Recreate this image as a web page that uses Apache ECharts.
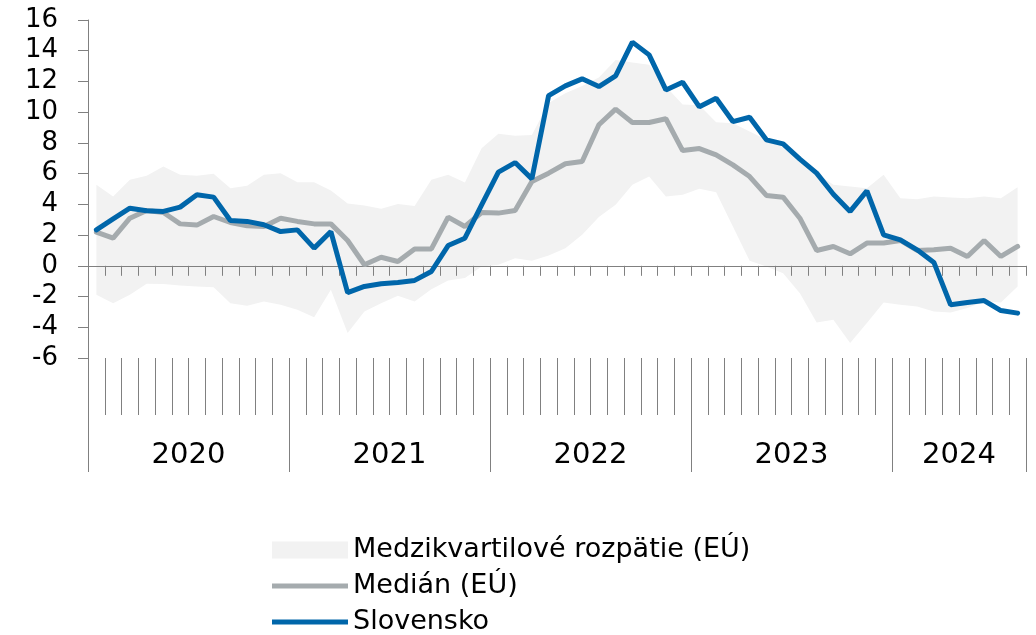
<!DOCTYPE html>
<html>
<head>
<meta charset="utf-8">
<script src="https://cdn.jsdelivr.net/npm/echarts@6/dist/echarts.min.js"></script>
<style>
  html, body { margin: 0; padding: 0; background: #fff; }
  #chart { width: 1036px; height: 635px; }
</style>
</head>
<body>
<div id="chart"></div>
<script>
// monthly, Jan 2020 - Aug 2024
const years = ['2020', '2021', '2022', '2023', '2024'];
const monthsInYear = [12, 12, 12, 12, 8];

const slovensko = [
  2.34, 3.05, 3.75, 3.58, 3.54, 3.82, 4.62, 4.47, 2.95, 2.89, 2.67, 2.23,
  2.34, 1.15, 2.23, -1.74, -1.34, -1.17, -1.08, -0.95, -0.37, 1.32, 1.80, 3.97,
  6.10, 6.72, 5.66, 11.08, 11.71, 12.17, 11.67, 12.36, 14.56, 13.73, 11.45, 11.95,
  10.35, 10.91, 9.39, 9.67, 8.20, 7.94, 6.94, 6.03, 4.66, 3.54, 4.88, 2.02,
  1.69, 1.04, 0.22, -2.54, -2.39, -2.26, -2.91, -3.08
];
const median = [
  2.19, 1.80, 3.10, 3.60, 3.47, 2.73, 2.65, 3.21, 2.82, 2.60, 2.56, 3.10,
  2.89, 2.73, 2.73, 1.65, 0.07, 0.56, 0.28, 1.10, 1.10, 3.17, 2.56, 3.47,
  3.43, 3.60, 5.49, 6.03, 6.64, 6.79, 9.18, 10.20, 9.33, 9.33, 9.57, 7.50,
  7.63, 7.22, 6.57, 5.81, 4.58, 4.47, 3.10, 1.00, 1.26, 0.78, 1.48, 1.48,
  1.65, 1.00, 1.04, 1.15, 0.61, 1.65, 0.61, 1.26
];
const iqrHigh = [
  5.27, 4.51, 5.60, 5.86, 6.46, 5.92, 5.86, 5.99, 5.05, 5.21, 5.92, 6.03,
  5.44, 5.44, 4.90, 4.05, 3.93, 3.71, 4.03, 3.90, 5.60, 5.92, 5.42, 7.66,
  8.59, 8.46, 8.52, 10.59, 11.24, 11.71, 12.26, 13.40, 13.23, 13.08, 11.67, 10.50,
  10.45, 9.35, 9.28, 8.74, 8.20, 7.94, 7.00, 6.03, 5.27, 5.16, 5.05, 5.92,
  4.40, 4.34, 4.51, 4.45, 4.40, 4.51, 4.40, 5.12
];
const iqrLow = [
  -1.89, -2.43, -1.89, -1.17, -1.19, -1.28, -1.34, -1.39, -2.43, -2.60, -2.32, -2.54,
  -2.86, -3.34, -1.56, -4.38, -2.97, -2.43, -1.95, -2.32, -1.52, -0.95, -0.80, -0.04,
  0.07, 0.50, 0.33, 0.67, 1.15, 2.02, 3.17, 3.97, 5.27, 5.81, 4.51, 4.62,
  5.02, 4.79, 2.56, 0.33, -0.04, -0.48, -1.78, -3.69, -3.51, -5.03, -3.73, -2.39,
  -2.54, -2.65, -2.97, -3.04, -2.75, -2.32, -2.39, -1.34
];

const yMin = -6, yMax = 16, yStep = 2;
const names = ['Medzikvartilové rozpätie (EÚ)', 'Medián (EÚ)', 'Slovensko'];

const months = [];
const yearStart = [];
const yearLabelAt = {};
years.forEach(function (y, k) {
  yearStart.push(months.length);
  yearLabelAt[months.length + monthsInYear[k] / 2 - 1] = y;
  for (let m = 1; m <= monthsInYear[k]; m++) {
    months.push(y + '-' + (m < 10 ? '0' + m : m));
  }
});
const iqrSpan = iqrHigh.map(function (v, i) { return +(v - iqrLow[i]).toFixed(2); });

const axisGray = '#808080';
const font = 'DejaVu Sans, Verdana, sans-serif';
const bandW = (1036 - 88 - 10) / months.length;

var chart = echarts.init(document.getElementById('chart'));
var option = {
  animation: false,
  textStyle: { fontFamily: font, color: '#000' },
  grid: { left: 88, right: 10, top: 20, bottom: 277, containLabel: false },
  legend: {
    orient: 'vertical',
    left: 272,
    top: 536,
    height: 130,
    padding: 0,
    itemWidth: 76,
    itemHeight: 17,
    itemGap: 8,
    selectedMode: false,
    textStyle: { fontFamily: font, fontSize: 27, color: '#000', lineHeight: 28 },
    data: [
      { name: names[0], icon: 'rect' },
      { name: names[1], icon: 'path://M0,0H76V5H0Z' },
      { name: names[2], icon: 'path://M0,0H76V5H0Z' }
    ]
  },
  xAxis: [
    {
      // month ticks along the zero line
      type: 'category',
      data: months,
      boundaryGap: true,
      z: 1,
      axisLine: { onZero: true, lineStyle: { color: axisGray, width: 1 } },
      axisTick: { show: true, interval: 0, length: 10, lineStyle: { color: axisGray } },
      axisLabel: { show: false },
      splitLine: { show: false }
    },
    {
      // month ticks under the plot
      type: 'category',
      data: months,
      position: 'bottom',
      boundaryGap: true,
      axisLine: { show: false, onZero: false },
      axisTick: { show: true, interval: 0, length: 57, lineStyle: { color: axisGray } },
      axisLabel: { show: false },
      splitLine: { show: false }
    },
    {
      // year separators and labels
      type: 'category',
      data: months,
      position: 'bottom',
      boundaryGap: true,
      axisLine: { show: false, onZero: false },
      axisTick: {
        show: true,
        length: 114,
        lineStyle: { color: axisGray },
        interval: function (i) { return yearStart.indexOf(i) >= 0; }
      },
      axisLabel: {
        show: true,
        interval: function (i) { return yearLabelAt[i] !== undefined; },
        formatter: function (v, i) { return yearLabelAt[i] || ''; },
        fontFamily: font,
        fontSize: 29,
        color: '#000',
        margin: 83,
        padding: [0, 0, 0, bandW]
      },
      splitLine: { show: false }
    }
  ],
  yAxis: {
    type: 'value',
    min: yMin,
    max: yMax,
    interval: yStep,
    axisLine: { show: true, lineStyle: { color: axisGray, width: 1 } },
    axisTick: { show: true, length: 10, lineStyle: { color: axisGray } },
    axisLabel: { fontFamily: font, fontSize: 26, color: '#000', margin: 30 },
    splitLine: { show: false }
  },
  series: [
    {
      name: 'iqr-base',
      type: 'line',
      stack: 'iqr',
      stackStrategy: 'all',
      data: iqrLow,
      symbol: 'none',
      lineStyle: { opacity: 0 },
      z: 0,
      silent: true
    },
    {
      name: names[0],
      type: 'line',
      stack: 'iqr',
      stackStrategy: 'all',
      data: iqrSpan,
      symbol: 'none',
      color: '#f2f2f2',
      lineStyle: { opacity: 0 },
      areaStyle: { color: '#f2f2f2', opacity: 1 },
      z: 0,
      silent: true
    },
    {
      name: names[1],
      type: 'line',
      data: median,
      symbol: 'none',
      color: '#a5abae',
      lineStyle: { color: '#a5abae', width: 5, cap: 'round' },
      z: 3
    },
    {
      name: names[2],
      type: 'line',
      data: slovensko,
      symbol: 'none',
      color: '#0066aa',
      lineStyle: { color: '#0066aa', width: 5, cap: 'round' },
      z: 4
    }
  ]
};
option && chart.setOption(option);
</script>
</body>
</html>
